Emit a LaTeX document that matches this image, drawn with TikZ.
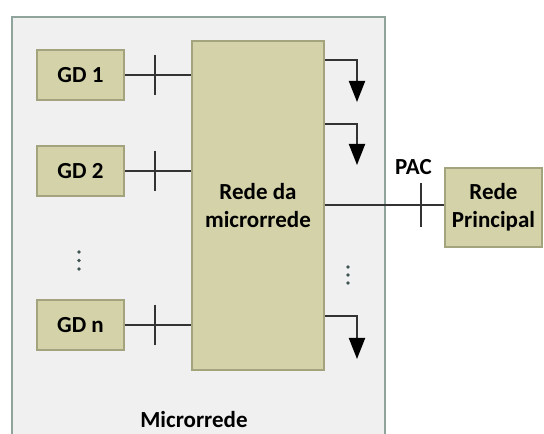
\documentclass[tikz,border=0pt]{standalone}
\usepackage{fontspec}
\setmainfont{Carlito}
\usepackage{xcolor}
\usepackage{tikz}
\usetikzlibrary{arrows.meta,positioning}
\definecolor{mrTan}{HTML}{D4D2A8}
\definecolor{mrTanEdge}{HTML}{A3A37E}
\definecolor{mrBack}{HTML}{F0F0F0}
\definecolor{mrBackEdge}{HTML}{8FA49B}
\definecolor{mrWire}{HTML}{333333}
\definecolor{mrDot}{HTML}{3F5552}
\tikzset{
  mrbox/.style={rectangle,draw=mrTanEdge,fill=mrTan,line width=1.6pt,
                inner sep=0pt,align=center,
                font=\fontsize{23}{28}\selectfont\bfseries},
  mrgd/.style={mrbox,minimum width=87pt,minimum height=50pt},
  mrwire/.style={draw=mrWire,line width=2pt},
  mrload/.style={mrwire,-{Triangle[length=21pt,width=16pt,color=black]}},
  mrtick/.style={draw=mrWire,line width=2pt},
  mrdot/.style={circle,fill=mrDot,inner sep=0pt,minimum size=3.6pt},
  mrlabel/.style={font=\fontsize{23}{28}\selectfont\bfseries,inner sep=0pt}
}
\begin{document}
\begin{tikzpicture}[x=1pt,y=1pt]
    \useasboundingbox (0,0) rectangle (544,434);
    \fill[white] (0,0) rectangle (544,434);

    % microgrid frame (open at the bottom)
    \draw[fill=mrBack,draw=mrBackEdge,line width=2pt]
      (12,-4) -- (12,417) -- (385,417) -- (385,-4);
    \node[mrlabel] (mrname) at (194,14) {Microrrede};

    % generators
    \node[mrgd] (gd1) at (80.5,359) {GD 1};
    \node[mrgd] (gd2) at (80.5,263) {GD 2};
    \node[mrgd] (gdn) at (80.5,109) {GD n};
    \foreach \y in {182,173.5,165}
      \node[mrdot] at (79,\y) {};

    % internal network and main grid
    \node[mrbox,minimum width=132pt,minimum height=329pt] (mrede)
      at (258,228.5) {Rede da\\microrrede};
    \node[mrbox,minimum width=97pt,minimum height=79pt] (rprin)
      at (493.5,226.5) {Rede\\Principal};

    \foreach \g in {gd1,gd2,gdn} {
      \draw[mrwire] (\g.east) -- (\g.east -| mrede.west);
      \coordinate (sw-\g) at (\g.east -| 155,0);
      \draw[mrtick] ([yshift=20pt]sw-\g) -- ([yshift=-20pt]sw-\g);
    }

    % loads
    \coordinate (ld1) at (357,332);
    \coordinate (ld2) at (357,269);
    \coordinate (ldn) at (357,75);
    \draw[mrload] (mrede.east |- 0,374) -| (ld1);
    \draw[mrload] (mrede.east |- 0,310) -| (ld2);
    \draw[mrload] (mrede.east |- 0,118) -| (ldn);
    \foreach \y in {167,159,151}
      \node[mrdot] at (348,\y) {};

    % point of common coupling
    \draw[mrwire] (mrede.east) -- (mrede.east -| rprin.west);
    \coordinate (pac) at (421,229);
    \draw[mrtick] ([yshift=22pt]pac) -- ([yshift=-22pt]pac);
    \node[mrlabel] (paclbl) at (413.5,267) {PAC};
  \end{tikzpicture}
\end{document}
